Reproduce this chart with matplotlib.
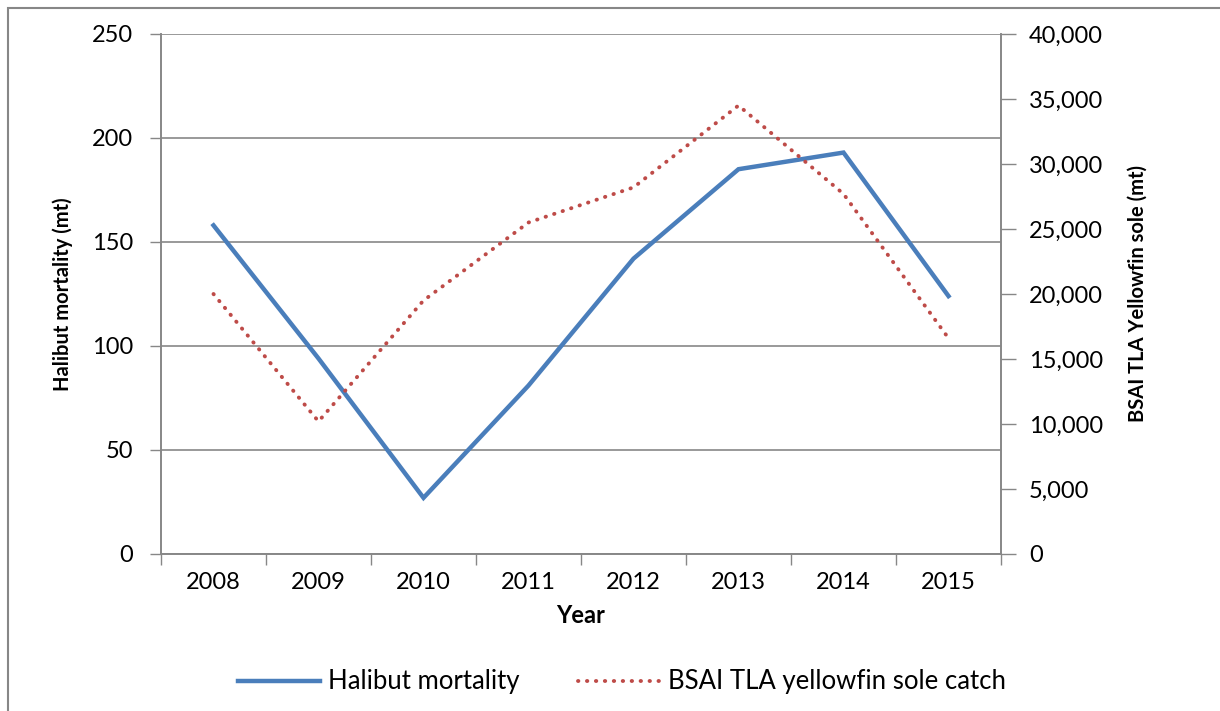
import matplotlib
matplotlib.use("Agg")
import matplotlib.pyplot as plt
from matplotlib.patches import Rectangle
from matplotlib.ticker import FuncFormatter

years = ["2008", "2009", "2010", "2011", "2012", "2013", "2014", "2015"]
halibut_mortality = [158, 94, 27, 81, 142, 185, 193, 124]
yellowfin_catch = [20000, 10200, 19500, 25500, 28200, 34500, 27700, 16600]

plt.rcParams['font.family'] = ['Lato', 'DejaVu Sans']

W, H = 1220, 711
fig = plt.figure(figsize=(W / 100, H / 100), dpi=100)
L, R, T, B = 161, 1001, 34, 554
ax = fig.add_axes([L / W, 1 - B / H, (R - L) / W, (B - T) / H])
ax2 = ax.twinx()

grey = "#878787"
blue = "#4A7EBB"
red = "#BE4B48"

x = list(range(len(years)))
ax.plot(x, halibut_mortality, color=blue, lw=3.2, solid_joinstyle='miter',
        label="Halibut mortality", zorder=3)
ax2.plot(x, yellowfin_catch, color=red, lw=2.8, linestyle=(0, (0.1, 2.2)),
         dash_capstyle='round', label="BSAI TLA yellowfin sole catch", zorder=3)

ax.set_xlim(-0.5, len(years) - 0.5)
ax.set_ylim(0, 250)
ax.set_yticks(range(0, 251, 50))
ax2.set_ylim(0, 40000)
ax2.set_yticks(range(0, 40001, 5000))
ax2.yaxis.set_major_formatter(FuncFormatter(lambda v, p: f"{int(v):,}"))

ax.set_xticks(x)
ax.set_xticklabels(years)
ax.set_xticks([i - 0.5 for i in range(len(years) + 1)], minor=True)
ax.tick_params(axis='x', which='major', length=0, pad=13, labelsize=17, colors='black')
ax.tick_params(axis='x', which='minor', length=8, color=grey, width=1)
ax.tick_params(axis='y', length=8, color=grey, width=1, labelsize=17, pad=12)
ax2.tick_params(axis='y', length=11, color=grey, width=1, labelsize=17, pad=9)

ax.grid(axis='y', color=grey, lw=1.2)
ax.set_axisbelow(True)
for a in (ax, ax2):
    for s in a.spines.values():
        s.set_visible(False)
    for side in ('left', 'right', 'bottom'):
        a.spines[side].set_visible(True)
        a.spines[side].set_color(grey)
        a.spines[side].set_linewidth(1.2)

ax.set_ylabel("Halibut mortality (mt)", fontsize=14.5, fontweight='bold', labelpad=14)
ax2.set_ylabel("BSAI TLA Yellowfin sole (mt)", fontsize=14.5, fontweight='bold', labelpad=18)
ax.set_xlabel("Year", fontsize=17, fontweight='bold', labelpad=8)

h1, l1 = ax.get_legend_handles_labels()
h2, l2 = ax2.get_legend_handles_labels()
fig.legend(h1 + h2, l1 + l2, loc='center', bbox_to_anchor=(0.51, 1 - 682 / H),
           ncol=2, frameon=False, fontsize=18.5, handlelength=3.2, columnspacing=2.3,
           handletextpad=0.3)

fig.patches.append(Rectangle((8 / W, -0.05), 1.1, 1 - 8 / H + 0.05,
                             transform=fig.transFigure, fill=False,
                             edgecolor=grey, lw=1.5, zorder=0))

fig.savefig("out.png", dpi=100)
